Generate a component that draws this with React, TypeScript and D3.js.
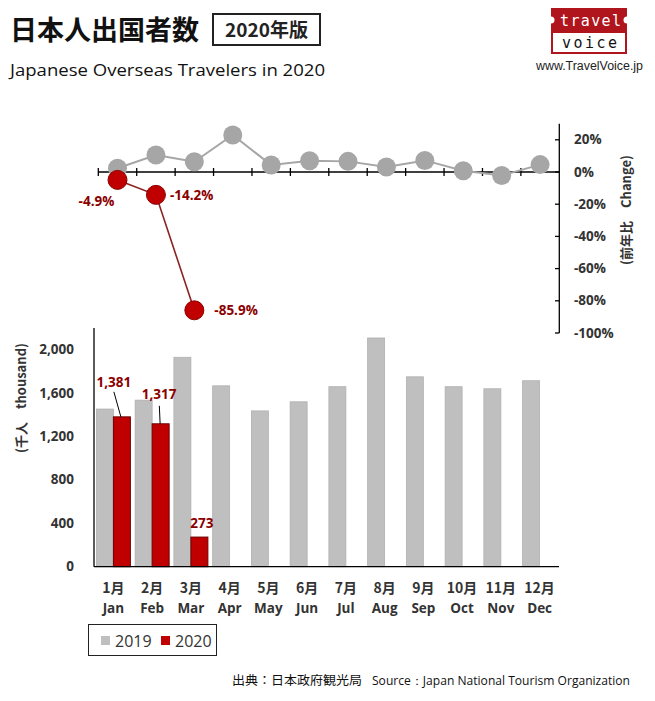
import React from "react";
import * as d3 from "d3";

const monthsJa = ["1月", "2月", "3月", "4月", "5月", "6月", "7月", "8月", "9月", "10月", "11月", "12月"];
const monthsEn = ["Jan", "Feb", "Mar", "Apr", "May", "Jun", "Jul", "Aug", "Sep", "Oct", "Nov", "Dec"];
const travelers2019 = [1453, 1535, 1930, 1667, 1436, 1520, 1659, 2108, 1750, 1659, 1640, 1714];
const travelers2020 = [1381, 1317, 273];
const change2019 = [2.3, 10.6, 6.4, 23.0, 4.3, 7.0, 6.6, 3.1, 7.2, 0.8, -2.2, 4.6];
const change2020 = [-4.9, -14.2, -85.9];
const barTicks = [0, 400, 800, 1200, 1600, 2000];
const pctTicks = [20, 0, -20, -40, -60, -80, -100];

const GRAY = "#bfbfbf";
const LINEGRAY = "#a6a6a6";
const RED = "#c00000";
const DARKRED = "#8b0000";
const TXT = "#333333";
const LAT = "'Open Sans', 'DejaVu Sans', sans-serif";
const JP = "'Noto Sans CJK JP', 'Noto Sans', sans-serif";

export default function App() {
  // bar chart scales
  const xBand = d3.scaleBand<number>().domain(d3.range(12)).range([94, 559]).paddingInner(0.123).paddingOuter(0.062);
  const xSub = d3.scaleBand<number>().domain([0, 1]).range([0, xBand.bandwidth()]);
  const yBar = d3.scaleLinear().domain([0, 2200]).range([566.7, 328]);

  // line chart scales
  const xLine = d3.scaleBand<number>().domain(d3.range(12)).range([98.3, 559.3]);
  const yPct = d3.scaleLinear().domain([-100, 30]).range([333, 123.7]);
  const cx = (i: number) => (xLine(i) as number) + xLine.bandwidth() / 2;

  const line = d3.line<number>().x((_, i) => cx(i)).y((d) => yPct(d));

  const fmt = d3.format(",");

  const labelPos2020 = [
    { dx: -21, dy: 26, anchor: "middle" },
    { dx: 14, dy: 5, anchor: "start" },
    { dx: 20, dy: 5, anchor: "start" },
  ];

  return (
    <div style={{ position: "absolute", left: 0, top: 0 }}>
      <svg width={655} height={701} style={{ display: "block", background: "#fff" }}>
        {/* Title */}
        <text x={10} y={40} fontFamily={JP} fontWeight={700} fontSize={27} fill="#111">日本人出国者数</text>
        <rect x={213} y={14} width={107} height={31} fill="none" stroke="#222" strokeWidth={2} />
        <text x={266.5} y={37} textAnchor="middle" fontFamily={JP} fontWeight={700} fontSize={19} fill="#222">2020年版</text>
        <text x={10} y={76} fontFamily={LAT} fontSize={16} fill="#111" textLength={315} lengthAdjust="spacingAndGlyphs">Japanese Overseas Travelers in 2020</text>

        {/* Logo */}
        <rect x={551} y={8} width={76} height={24} fill="#b0141c" />
        <circle cx={551} cy={20} r={3.5} fill="#fff" />
        <circle cx={627} cy={20} r={3.5} fill="#fff" />
        <rect x={552} y={32} width={74} height={21} fill="#fff" stroke="#b0141c" strokeWidth={2} />
        <text x={560} y={26} fontFamily="'DejaVu Sans Mono', monospace" fontSize={15} fill="#fff" textLength={61} lengthAdjust="spacing">travel</text>
        <text x={562} y={48} fontFamily="'DejaVu Sans Mono', monospace" fontSize={15} fill="#111" textLength={55} lengthAdjust="spacing">voice</text>
        <text x={589.5} y={70} textAnchor="middle" fontFamily="'Liberation Sans Narrow', 'Liberation Sans', sans-serif" fontSize={12} fill="#222" textLength={107} lengthAdjust="spacingAndGlyphs">www.TravelVoice.jp</text>

        {/* Top line chart axes */}
        <line x1={98.3} x2={559.3} y1={yPct(0)} y2={yPct(0)} stroke="#000" strokeWidth={1.3} />
        {d3.range(12).map((i) => (
          <line key={"tk" + i} x1={xLine(i)} x2={xLine(i)} y1={yPct(0) - 4} y2={yPct(0) + 4} stroke="#000" strokeWidth={1.3} />
        ))}
        <line x1={559.3} x2={559.3} y1={yPct(30)} y2={yPct(-100)} stroke="#000" strokeWidth={1.3} />
        {pctTicks.map((t) => (
          <g key={"pt" + t}>
            <line x1={555} x2={559.3} y1={yPct(t)} y2={yPct(t)} stroke="#000" strokeWidth={1.3} />
            <text x={574} y={yPct(t) + 4.5} fontFamily={LAT} fontWeight={700} fontSize={13.5} fill={TXT}>{t + "%"}</text>
          </g>
        ))}
        <text transform={`translate(631,210) rotate(-90)`} textAnchor="middle" fontFamily={JP} fontWeight={700} fontSize={13} fill={TXT}>(前年比　Change)</text>

        {/* 2019 change line */}
        <path d={line(change2019) || ""} fill="none" stroke={LINEGRAY} strokeWidth={2} />
        {change2019.map((v, i) => (
          <circle key={"g" + i} cx={cx(i)} cy={yPct(v)} r={9.5} fill={LINEGRAY} />
        ))}
        {/* 2020 change line */}
        <path d={line(change2020) || ""} fill="none" stroke="#8b2323" strokeWidth={1.6} />
        {change2020.map((v, i) => (
          <circle key={"r" + i} cx={cx(i)} cy={yPct(v)} r={9.5} fill={RED} stroke={DARKRED} strokeWidth={1} />
        ))}
        {change2020.map((v, i) => (
          <text key={"rl" + i} x={cx(i) + labelPos2020[i].dx} y={yPct(v) + labelPos2020[i].dy} textAnchor={labelPos2020[i].anchor as any} fontFamily={LAT} fontWeight={700} fontSize={13.5} fill={DARKRED}>{v.toFixed(1) + "%"}</text>
        ))}

        {/* Bar chart axes */}
        <line x1={94} x2={94} y1={328} y2={yBar(0)} stroke="#000" strokeWidth={1.3} />
        {barTicks.map((t) => (
          <text key={"bt" + t} x={74} y={yBar(t) + 4.5} textAnchor="end" fontFamily={LAT} fontWeight={700} fontSize={13.5} fill={TXT}>{fmt(t)}</text>
        ))}
        <text transform={`translate(26,398) rotate(-90)`} textAnchor="middle" fontFamily={JP} fontWeight={700} fontSize={13} fill={TXT}>(千人　thousand)</text>

        {/* Bars */}
        {travelers2019.map((v, i) => (
          <rect key={"b19" + i} x={(xBand(i) as number) + (xSub(0) as number)} y={yBar(v)} width={xSub.bandwidth()} height={yBar(0) - yBar(v)} fill={GRAY} stroke="#b0b0b0" strokeWidth={0.8} />
        ))}
        {travelers2020.map((v, i) => (
          <rect key={"b20" + i} x={(xBand(i) as number) + (xSub(1) as number)} y={yBar(v)} width={xSub.bandwidth()} height={yBar(0) - yBar(v)} fill={RED} stroke="#6b0000" strokeWidth={1} />
        ))}
        <line x1={94} x2={559} y1={yBar(0)} y2={yBar(0)} stroke="#000" strokeWidth={1.3} />

        {/* 2020 bar labels */}
        {travelers2020.map((v, i) => {
          const bx = (xBand(i) as number) + (xSub(1) as number) + xSub.bandwidth() / 2;
          const by = yBar(v);
          if (i === 0) {
            return (
              <g key={"bl" + i}>
                <text x={bx - 8} y={by - 30} textAnchor="middle" fontFamily={LAT} fontWeight={700} fontSize={13.5} fill={DARKRED}>{fmt(v)}</text>
                <line x1={bx - 8} x2={bx - 1} y1={by - 25} y2={by} stroke="#000" strokeWidth={1} />
              </g>
            );
          }
          if (i === 1) {
            return (
              <g key={"bl" + i}>
                <text x={bx - 1.5} y={by - 25} textAnchor="middle" fontFamily={LAT} fontWeight={700} fontSize={13.5} fill={DARKRED}>{fmt(v)}</text>
                <line x1={bx - 1.3} x2={bx - 0.5} y1={by - 18} y2={by} stroke="#000" strokeWidth={1} />
              </g>
            );
          }
          return (
            <text key={"bl" + i} x={bx + 2.5} y={by - 9} textAnchor="middle" fontFamily={LAT} fontWeight={700} fontSize={13.5} fill={DARKRED}>{fmt(v)}</text>
          );
        })}

        {/* X labels */}
        {monthsJa.map((m, i) => {
          const c = (xBand(i) as number) + xBand.bandwidth() / 2;
          return (
            <g key={"xl" + i}>
              <text x={c} y={593} textAnchor="middle" fontFamily={JP} fontWeight={700} fontSize={14} fill={TXT}>{m}</text>
              <text x={c} y={613} textAnchor="middle" fontFamily={LAT} fontWeight={700} fontSize={13.5} fill={TXT}>{monthsEn[i]}</text>
            </g>
          );
        })}

        {/* Legend */}
        <rect x={88.5} y={624.5} width={128} height={31} fill="#fff" stroke="#222" strokeWidth={1} />
        <rect x={101} y={636} width={9} height={9} fill={GRAY} />
        <text x={115} y={647} fontFamily={LAT} fontSize={16} fill={TXT}>2019</text>
        <rect x={161} y={636} width={9} height={9} fill={RED} />
        <text x={175} y={647} fontFamily={LAT} fontSize={16} fill={TXT}>2020</text>

        {/* Source */}
        <text x={232} y={685} fontFamily={JP} fontSize={12.5} fill="#111" textLength={130} lengthAdjust="spacingAndGlyphs">出典：日本政府観光局</text>
        <text x={372} y={685} fontFamily={LAT} fontSize={12} fill="#111" textLength={258} lengthAdjust="spacingAndGlyphs">Source：Japan  National Tourism  Organization</text>
      </svg>
    </div>
  );
}
